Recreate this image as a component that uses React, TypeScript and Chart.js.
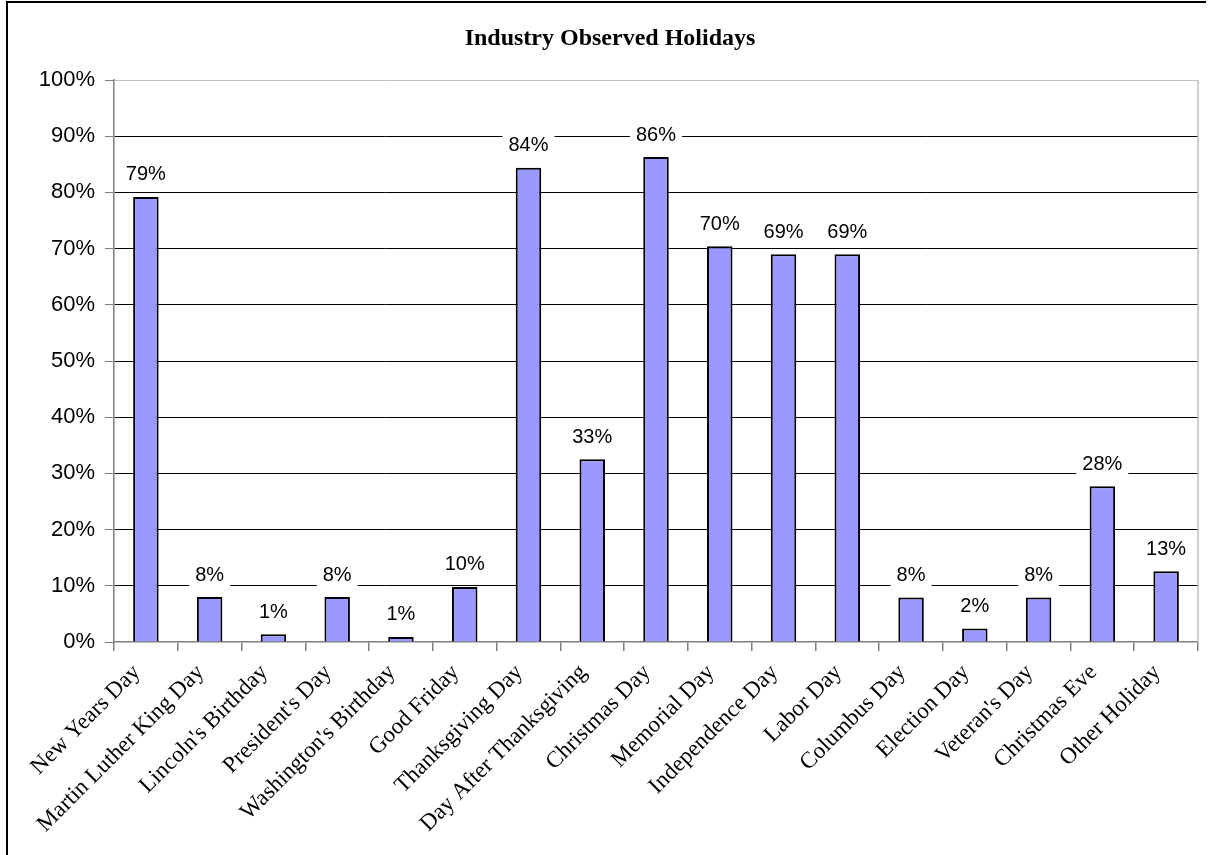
import React, { useEffect, useRef } from "react";
import { Chart, registerables } from "chart.js";

Chart.register(...registerables);

const categories = [
  "New Years Day",
  "Martin Luther King Day",
  "Lincoln's Birthday",
  "President's Day",
  "Washington's Birthday",
  "Good Friday",
  "Thanksgiving Day",
  "Day After Thanksgiving",
  "Christmas Day",
  "Memorial Day",
  "Independence Day",
  "Labor Day",
  "Columbus Day",
  "Election Day",
  "Veteran's Day",
  "Christmas Eve",
  "Other Holiday",
];

const observedPct = [79.2, 8.0, 1.4, 8.0, 0.9, 9.8, 84.4, 32.5, 86.3, 70.4, 69.0, 69.0, 7.9, 2.4, 7.9, 27.7, 12.6];

const chartTitle = "Industry Observed Holidays";

const frameAndTitle = {
  id: "frameAndTitle",
  afterDraw(chart: any) {
    const ctx = chart.ctx;
    const area = chart.chartArea;
    ctx.save();
    // outer frame (left and top)
    ctx.strokeStyle = "#000";
    ctx.lineWidth = 2;
    ctx.beginPath();
    ctx.moveTo(7, 855);
    ctx.lineTo(7, 2);
    ctx.lineTo(1206, 2);
    ctx.stroke();
    // plot area right border
    ctx.strokeStyle = "#c0c0c0";
    ctx.lineWidth = 1.5;
    ctx.beginPath();
    ctx.moveTo(area.right, area.top);
    ctx.lineTo(area.right, area.bottom);
    ctx.stroke();
    // title
    ctx.fillStyle = "#000";
    ctx.font = "bold 24px 'Liberation Serif', 'Times New Roman', serif";
    ctx.textAlign = "center";
    ctx.textBaseline = "middle";
    ctx.fillText(chartTitle, 610, 39);
    ctx.restore();
  },
};

const valueLabels = {
  id: "valueLabels",
  afterDatasetsDraw(chart: any) {
    const ctx = chart.ctx;
    const meta = chart.getDatasetMeta(0);
    const data = chart.data.datasets[0].data as number[];
    ctx.save();
    ctx.font = "20px 'Liberation Sans', Arial, sans-serif";
    ctx.textAlign = "center";
    ctx.textBaseline = "middle";
    meta.data.forEach((bar: any, i: number) => {
      const txt = Math.round(data[i]) + "%";
      const w = ctx.measureText(txt).width;
      const cy = bar.y - 23;
      ctx.fillStyle = "#fff";
      ctx.fillRect(bar.x - w / 2 - 6, cy - 13, w + 12, 26);
      ctx.fillStyle = "#000";
      ctx.fillText(txt, bar.x, cy + 1);
    });
    ctx.restore();
  },
};

export default function App() {
  const ref = useRef<HTMLCanvasElement | null>(null);

  useEffect(() => {
    document.body.style.margin = "0";
    if (!ref.current) return;
    const chart = new Chart(ref.current, {
      type: "bar",
      data: {
        labels: categories,
        datasets: [
          {
            data: observedPct,
            backgroundColor: "#9999ff",
            borderColor: "#000",
            borderWidth: 2,
            barPercentage: 0.4,
            categoryPercentage: 1,
          },
        ],
      },
      options: {
        responsive: false,
        animation: false,
        devicePixelRatio: 1,
        layout: { padding: { top: 80, right: 14, left: 0, bottom: 0 } },
        plugins: {
          legend: { display: false },
          title: { display: false },
          tooltip: { enabled: false },
        },
        scales: {
          x: {
            afterFit: (s: any) => {
              s.height = 213;
            },
            grid: {
              display: true,
              drawOnChartArea: false,
              drawTicks: true,
              tickLength: 9,
              tickColor: "#808080",
              offset: true,
              lineWidth: 1.5,
            },
            border: { display: true, color: "#808080", width: 1.5 },
            ticks: {
              autoSkip: false,
              maxRotation: 45,
              minRotation: 45,
              padding: 8,
              labelOffset: -9,
              color: "#000",
              font: { family: "'Liberation Serif', 'Times New Roman', serif", size: 23 },
            },
          },
          y: {
            min: 0,
            max: 100,
            afterFit: (s: any) => {
              s.width = 114;
            },
            grid: {
              color: (c: any) => {
                const v = c.tick ? c.tick.value : null;
                if (v === 0) return "rgba(0,0,0,0)";
                if (v === 100) return "#c0c0c0";
                return "#000";
              },
              lineWidth: 1,
              tickLength: 9,
              tickColor: "#808080",
            },
            border: { display: true, color: "#808080", width: 1.5 },
            ticks: {
              stepSize: 10,
              padding: 10,
              color: "#000",
              font: { family: "'Liberation Sans', Arial, sans-serif", size: 22 },
              callback: (v: any) => v + "%",
            },
          },
        },
      },
      plugins: [valueLabels, frameAndTitle],
    });
    return () => chart.destroy();
  }, []);

  return (
    <div style={{ width: 1212, height: 855, background: "#fff" }}>
      <canvas ref={ref} width={1212} height={855} style={{ display: "block" }} />
    </div>
  );
}
